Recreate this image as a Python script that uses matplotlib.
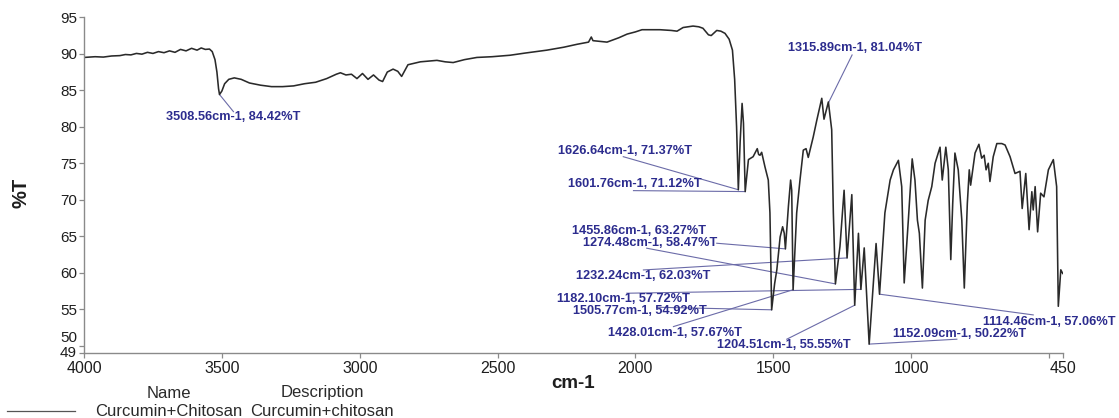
import matplotlib
matplotlib.use("Agg")
import matplotlib.pyplot as plt
import matplotlib.transforms as mtransforms
import numpy as np

plt.rcParams["font.family"] = ["Liberation Sans", "DejaVu Sans"]

# Labelled band positions (cm-1) and transmittance (%T)
peak_wn = [3508.56, 1626.64, 1601.76, 1505.77, 1455.86, 1428.01, 1315.89,
           1274.48, 1232.24, 1204.51, 1182.10, 1152.09, 1114.46]
peak_T = [84.42, 71.37, 71.12, 54.92, 63.27, 57.67, 81.04,
          58.47, 62.03, 55.55, 57.72, 50.22, 57.06]

# Remaining points of the recorded spectrum
trace_wn = [4000, 3960, 3930, 3900, 3870, 3850, 3830, 3810, 3790, 3770, 3750, 3730,
            3710, 3690, 3670, 3650, 3630, 3610, 3590, 3575, 3560, 3545, 3535, 3525,
            3518, 3512, 3500, 3490, 3475, 3455, 3430, 3400, 3360, 3320, 3280, 3240,
            3200, 3160, 3120, 3085, 3070, 3050, 3030, 3010, 2990, 2970, 2950, 2930,
            2917, 2900, 2879, 2862, 2848, 2835, 2825, 2780, 2720, 2690, 2661, 2620,
            2575, 2520, 2455, 2400, 2321, 2260, 2212, 2170, 2160, 2154, 2103, 2060,
            2030, 2000, 1976, 1911, 1870, 1849, 1827, 1791, 1770, 1755, 1735, 1725,
            1705, 1690, 1675, 1660, 1648, 1640, 1633, 1620, 1613, 1608, 1590, 1573,
            1558, 1553, 1548, 1542, 1530, 1518, 1512, 1495, 1487, 1475, 1466, 1460,
            1445, 1437, 1433, 1415, 1403, 1391, 1381, 1373, 1355, 1342, 1324, 1300,
            1288, 1282, 1258, 1243, 1215, 1191, 1170, 1127, 1095, 1076, 1064, 1046,
            1034, 1025, 1010, 996, 986, 977, 970, 959, 949, 938, 925, 913, 895, 887,
            874, 865, 856, 849, 841, 829, 816, 807, 796, 789, 784, 768, 754, 744,
            735, 728, 720, 714, 702, 689, 671, 659, 641, 623, 605, 597, 584, 572,
            562, 557, 550, 541, 530, 518, 502, 484, 472, 466, 457, 450]
trace_T = [89.5, 89.6, 89.55, 89.7, 89.75, 89.9, 89.85, 90.05, 89.95, 90.2, 90.05, 90.3,
           90.15, 90.4, 90.2, 90.6, 90.4, 90.75, 90.5, 90.8, 90.6, 90.65, 90.3, 89.2,
           87.5, 85.2, 84.9, 85.9, 86.5, 86.7, 86.5, 86.0, 85.7, 85.5, 85.5, 85.6,
           85.9, 86.1, 86.6, 87.2, 87.4, 87.1, 87.2, 86.6, 87.3, 86.5, 87.1, 86.4,
           86.2, 87.5, 87.9, 87.6, 86.9, 87.8, 88.5, 88.9, 89.1, 88.9, 88.8, 89.2,
           89.5, 89.6, 89.8, 90.1, 90.5, 90.9, 91.3, 91.6, 92.3, 91.8, 91.6, 92.2,
           92.7, 93.0, 93.3, 93.3, 93.2, 93.1, 93.6, 93.8, 93.7, 93.5, 92.6, 92.5,
           93.2, 93.1, 92.8, 92.0, 90.5, 86.5, 80.0, 78.0, 83.2, 80.5, 75.5, 75.9,
           77.0, 76.2, 76.1, 76.5, 74.5, 72.7, 68.2, 58.5, 60.4, 64.9, 66.3, 65.4,
           69.1, 72.7, 71.3, 68.2, 72.7, 76.8, 77.0, 75.8, 78.6, 80.9, 83.9, 83.4,
           79.6, 68.2, 63.6, 71.3, 70.7, 65.4, 63.4, 64.0, 68.2, 72.7, 74.1, 75.4,
           71.8, 58.6, 67.2, 75.6, 72.7, 67.2, 65.4, 57.9, 67.2, 69.9, 71.8, 75.0, 77.2, 72.7,
           77.2, 74.1, 61.8, 69.5, 76.4, 74.1, 67.2, 57.9, 69.5, 74.1, 72.0, 76.4, 77.6, 75.7,
           76.1, 74.1, 75.0, 72.5, 75.9, 77.7, 77.7, 77.5, 75.9, 73.6, 73.9, 68.8, 73.6, 65.9,
           71.1, 68.6, 71.8, 65.6, 70.9, 70.4, 74.1, 75.5, 71.8, 55.4, 60.4, 59.9]

# Label text centres and leader-line starting points, in (cm-1, %T)
label_xy = [(3460, 81.34), (2039, 76.68), (2003, 72.12), (1983, 54.77), (1987, 65.77),
            (1857, 51.71), (1203, 90.80), (1947, 64.12), (1971, 59.56), (1461, 50.11),
            (2044, 56.37), (825, 51.58), (499, 53.30)]
leader_from = [(3458, 82.07), (2044, 75.90), (2007, 71.25), (1923, 55.27), (1705, 64.04),
               (1862, 52.62), (1214, 89.84), (1959, 63.36), (1971, 60.38), (1451, 50.89),
               (2031, 57.19), (834, 50.89), (557, 54.22)]
leader_to = [None] * len(peak_wn)
leader_to[6] = (1300, 83.26)

y_ticks = [49, 50, 55, 60, 65, 70, 75, 80, 85, 90, 95]
x_ticks = [4000, 3500, 3000, 2500, 2000, 1500, 1000, 500, 450]
x_tick_labels = ["4000", "3500", "3000", "2500", "2000", "1500", "1000", "", "450"]

wn = np.array(trace_wn + peak_wn, dtype=float)
tr = np.array(trace_T + peak_T, dtype=float)
order = np.argsort(-wn)
wn, tr = wn[order], tr[order]

fig = plt.figure(figsize=(11.19, 4.18), dpi=100)
ax = fig.add_axes([0.0751, 0.1555, 0.8746, 0.8031])

ax.plot(wn, tr, color="#2a2a2a", lw=1.15)
ax.set_xlim(4000, 450)
ax.set_ylim(49, 95)

for s in ("top", "right"):
    ax.spines[s].set_visible(False)
for s in ("left", "bottom"):
    ax.spines[s].set_color("#8a8a8a")
    ax.spines[s].set_linewidth(1.0)

ax.set_yticks(y_ticks)
ax.set_yticklabels([str(v) for v in y_ticks])
ax.set_xticks(x_ticks)
ax.set_xticklabels(x_tick_labels)
ax.tick_params(axis="both", colors="#8a8a8a", length=3.5, width=0.9,
               labelcolor="#1e1e1e", pad=1.5)
ax.tick_params(axis="x", labelsize=11.5, pad=2.5)
ax.tick_params(axis="y", labelsize=11)

# the 49 and 50 labels sit almost on top of each other; nudge them apart
for lbl in ax.get_yticklabels():
    if lbl.get_text() == "50":
        lbl.set_transform(lbl.get_transform() +
                          mtransforms.ScaledTranslation(0, 9 / 100, fig.dpi_scale_trans))
    elif lbl.get_text() == "49":
        lbl.set_transform(lbl.get_transform() +
                          mtransforms.ScaledTranslation(0, 1.5 / 100, fig.dpi_scale_trans))

ax.set_xlabel("cm-1", fontsize=13.5, fontweight="bold", color="#1e1e1e", labelpad=-1)
fig.text(21 / 1119, 1 - 193 / 418, "%T", rotation=90, fontsize=14.5,
         fontweight="bold", color="#1e1e1e", ha="center", va="center")

label_color = "#2c2c8e"
leader_color = "#6b6ba8"
for i, (pw, pt) in enumerate(zip(peak_wn, peak_T)):
    tx, ty = label_xy[i]
    sx, sy = leader_from[i]
    ex, ey = leader_to[i] if leader_to[i] is not None else (pw, pt)
    ax.plot([sx, ex], [sy, ey], color=leader_color, lw=0.8, clip_on=False, zorder=1)
    ax.text(tx, ty, f"{pw:.2f}cm-1, {pt:.2f}%T", color=label_color, fontsize=9.2,
            fontweight="bold", ha="center", va="center", clip_on=False, zorder=3)

# Legend table below the plot
legend_font = dict(fontsize=12, color="#2a2a2a", ha="center", va="center")
fig.text(169 / 1119, 1 - 393 / 418, "Name", **legend_font)
fig.text(322 / 1119, 1 - 393 / 418, "Description", **legend_font)
fig.text(169 / 1119, 1 - 411 / 418, "Curcumin+Chitosan", **legend_font)
fig.text(322 / 1119, 1 - 411 / 418, "Curcumin+chitosan", **legend_font)
fig.add_artist(plt.Line2D([7 / 1119, 75 / 1119], [1 - 411 / 418, 1 - 411 / 418],
                          color="#555555", lw=0.9))

fig.savefig("out.png", dpi=100, facecolor="white")
